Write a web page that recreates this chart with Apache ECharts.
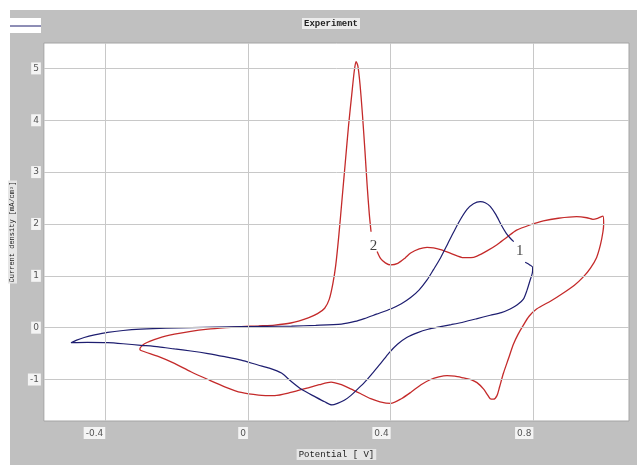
<!DOCTYPE html>
<html>
<head>
<meta charset="utf-8">
<script src="https://cdn.jsdelivr.net/npm/echarts@6/dist/echarts.min.js"></script>
<style>
html,body{margin:0;padding:0;background:#fff;}
#chart{width:637px;height:465px;}
</style>
</head>
<body>
<div id="chart"></div>
<script>
// Tick labels
const xTicks = [-0.4, 0, 0.4, 0.8];
const yTicks = [-1, 0, 1, 2, 3, 4, 5];

// Curve 2 (red): [potential V, current density mA/cm2]
const redCurve = [
  [0.362,1.47],[0.372,1.33],[0.385,1.25],[0.40,1.21],[0.42,1.24],[0.44,1.34],[0.456,1.44],[0.48,1.52],
  [0.502,1.55],[0.52,1.54],[0.54,1.505],[0.57,1.43],[0.605,1.35],[0.625,1.35],[0.642,1.38],[0.67,1.48],
  [0.698,1.60],[0.725,1.74],[0.753,1.88],[0.79,1.98],[0.828,2.06],[0.87,2.11],[0.921,2.14],[0.95,2.12],
  [0.967,2.09],[0.98,2.11],[0.995,2.15],[0.997,2.0],[0.995,1.85],[0.988,1.6],[0.977,1.35],[0.96,1.15],
  [0.94,0.98],[0.915,0.82],[0.884,0.67],[0.85,0.52],[0.809,0.36],[0.788,0.22],[0.772,0.05],[0.757,-0.13],
  [0.744,-0.32],[0.73,-0.6],[0.716,-0.88],[0.705,-1.15],[0.698,-1.31],[0.688,-1.38],[0.679,-1.37],
  [0.67,-1.28],[0.66,-1.18],[0.642,-1.06],[0.625,-1.0],[0.605,-0.97],[0.58,-0.935],[0.558,-0.925],
  [0.535,-0.95],[0.512,-1.0],[0.485,-1.1],[0.456,-1.25],[0.43,-1.37],[0.40,-1.46],[0.37,-1.43],
  [0.344,-1.37],[0.315,-1.27],[0.288,-1.18],[0.262,-1.1],[0.233,-1.05],[0.2,-1.1],[0.169,-1.16],
  [0.12,-1.25],[0.075,-1.31],[0.03,-1.3],[-0.019,-1.25],[-0.065,-1.14],[-0.112,-1.0],[-0.16,-0.85],
  [-0.206,-0.69],[-0.25,-0.56],[-0.30,-0.44],[-0.303,-0.41],[-0.29,-0.31],[-0.25,-0.2],[-0.206,-0.125],
  [-0.16,-0.07],[-0.112,-0.03],[-0.06,0.0],[-0.019,0.02],[0.03,0.035],[0.075,0.05],[0.12,0.09],
  [0.169,0.19],[0.195,0.27],[0.215,0.375],[0.228,0.55],[0.238,0.85],[0.246,1.2],[0.255,1.8],[0.264,2.5],
  [0.273,3.2],[0.282,3.9],[0.291,4.5],[0.298,4.95],[0.303,5.13],[0.308,5.05],[0.314,4.7],[0.321,4.1],
  [0.328,3.4],[0.334,2.75],[0.34,2.2],[0.345,1.85]
];

// Curve 1 (blue)
const blueCurve = [
  [0.777,1.26],[0.79,1.21],[0.798,1.165],[0.797,1.05],[0.791,0.92],[0.782,0.72],[0.772,0.55],[0.755,0.44],
  [0.735,0.36],[0.71,0.29],[0.679,0.24],[0.64,0.17],[0.605,0.11],[0.57,0.06],[0.54,0.02],[0.505,-0.03],
  [0.474,-0.10],[0.445,-0.19],[0.419,-0.32],[0.395,-0.49],[0.372,-0.69],[0.35,-0.87],[0.326,-1.06],
  [0.305,-1.2],[0.288,-1.31],[0.27,-1.40],[0.251,-1.46],[0.235,-1.49],[0.215,-1.43],[0.19,-1.34],
  [0.15,-1.19],[0.12,-1.03],[0.094,-0.875],[0.06,-0.78],[0.028,-0.72],[-0.019,-0.625],[-0.065,-0.56],
  [-0.112,-0.5],[-0.16,-0.45],[-0.206,-0.41],[-0.25,-0.37],[-0.30,-0.34],[-0.35,-0.31],[-0.393,-0.29],
  [-0.45,-0.285],[-0.496,-0.29],[-0.48,-0.24],[-0.459,-0.19],[-0.43,-0.14],[-0.393,-0.09],[-0.35,-0.055],
  [-0.30,-0.03],[-0.23,-0.01],[-0.159,0],[-0.09,0.01],[-0.019,0.02],[0.05,0.025],[0.122,0.03],[0.19,0.045],
  [0.262,0.07],[0.3,0.12],[0.326,0.175],[0.36,0.26],[0.40,0.36],[0.43,0.46],[0.456,0.58],[0.48,0.73],
  [0.502,0.92],[0.52,1.12],[0.54,1.35],[0.56,1.62],[0.577,1.85],[0.595,2.08],[0.614,2.28],[0.632,2.39],
  [0.651,2.43],[0.665,2.41],[0.679,2.34],[0.695,2.18],[0.71,1.98],[0.724,1.82],[0.736,1.72],[0.745,1.66]
];

// Curve annotations
const curveLabels = [
  { name: '1', value: [0.762, 1.47] },
  { name: '2', value: [0.352, 1.58] }
];

const chart = echarts.init(document.getElementById('chart'), null, { renderer: 'canvas' });

const gridLine = { color: '#c8c8c8', type: 'solid', width: 1 };
const tickLabelStyle = {
  fontFamily: 'DejaVu Sans', fontSize: 9, color: '#555',
  backgroundColor: '#f4f4f4', padding: [2, 2, 1, 2]
};

chart.setOption({
  animation: false,
  backgroundColor: '#c0c0c0',
  title: {
    text: 'Experiment',
    left: 302, top: 18,
    padding: [1, 2],
    backgroundColor: '#ececec',
    textStyle: { fontFamily: 'Liberation Mono', fontSize: 9, fontWeight: 'bold', color: '#222' }
  },
  graphic: [
    { type: 'rect', shape: { x: 0, y: 0, width: 637, height: 10 }, style: { fill: '#fff' }, silent: true },
    { type: 'rect', shape: { x: 0, y: 0, width: 10, height: 465 }, style: { fill: '#fff' }, silent: true },
    { type: 'rect', shape: { x: 10, y: 18, width: 31, height: 15 }, style: { fill: '#fff' }, silent: true },
    { type: 'line', shape: { x1: 10, y1: 26, x2: 41, y2: 26 }, style: { stroke: '#1c1c6c', lineWidth: 1 }, silent: true }
  ],
  grid: {
    left: 43, top: 43, right: 8, bottom: 29,
    show: true, backgroundColor: '#ffffff', borderColor: '#a4a4a4', borderWidth: 1
  },
  xAxis: {
    type: 'value', min: -0.572, max: 1.068,
    name: 'Potential [ V]', nameLocation: 'middle', nameGap: 28,
    nameTextStyle: { fontFamily: 'Liberation Mono', fontSize: 9, color: '#222', backgroundColor: '#e6e6e6', padding: [1, 2] },
    axisLine: { show: false }, axisTick: { show: false }, splitLine: { show: false },
    axisLabel: Object.assign({ customValues: xTicks, align: 'right', margin: 6, formatter: v => String(v) }, tickLabelStyle)
  },
  yAxis: {
    type: 'value', min: -1.8, max: 5.49,
    name: 'Current density [mA/cm²]', nameLocation: 'middle', nameGap: 24,
    nameTextStyle: { fontFamily: 'Liberation Mono', fontSize: 7, color: '#222', backgroundColor: '#e6e6e6', padding: [1, 1] },
    axisLine: { show: false }, axisTick: { show: false }, splitLine: { show: false },
    axisLabel: Object.assign({ customValues: yTicks, margin: 3, formatter: v => String(v) }, tickLabelStyle)
  },
  series: [
    {
      type: 'line', name: 'grid', data: [], silent: true,
      markLine: {
        silent: true, symbol: ['none', 'none'], label: { show: false },
        lineStyle: gridLine, animation: false,
        data: xTicks.map(v => ({ xAxis: v })).concat(yTicks.map(v => ({ yAxis: v })))
      }
    },
    {
      type: 'line', name: 'curve 2', data: redCurve, showSymbol: false, smooth: 0.25,
      lineStyle: { color: '#c42a2a', width: 1.3 }, itemStyle: { color: '#c42a2a' }, z: 3
    },
    {
      type: 'line', name: 'curve 1', data: blueCurve, showSymbol: false, smooth: 0.25,
      lineStyle: { color: '#1e1e70', width: 1.2 }, itemStyle: { color: '#1e1e70' }, z: 4
    },
    {
      type: 'scatter', name: 'labels', data: curveLabels, symbolSize: 1,
      itemStyle: { color: 'rgba(0,0,0,0)' },
      label: { show: true, position: 'inside', formatter: '{b}', fontFamily: 'Liberation Serif', fontSize: 15, color: '#111' },
      z: 5
    }
  ]
});
</script>
</body>
</html>
